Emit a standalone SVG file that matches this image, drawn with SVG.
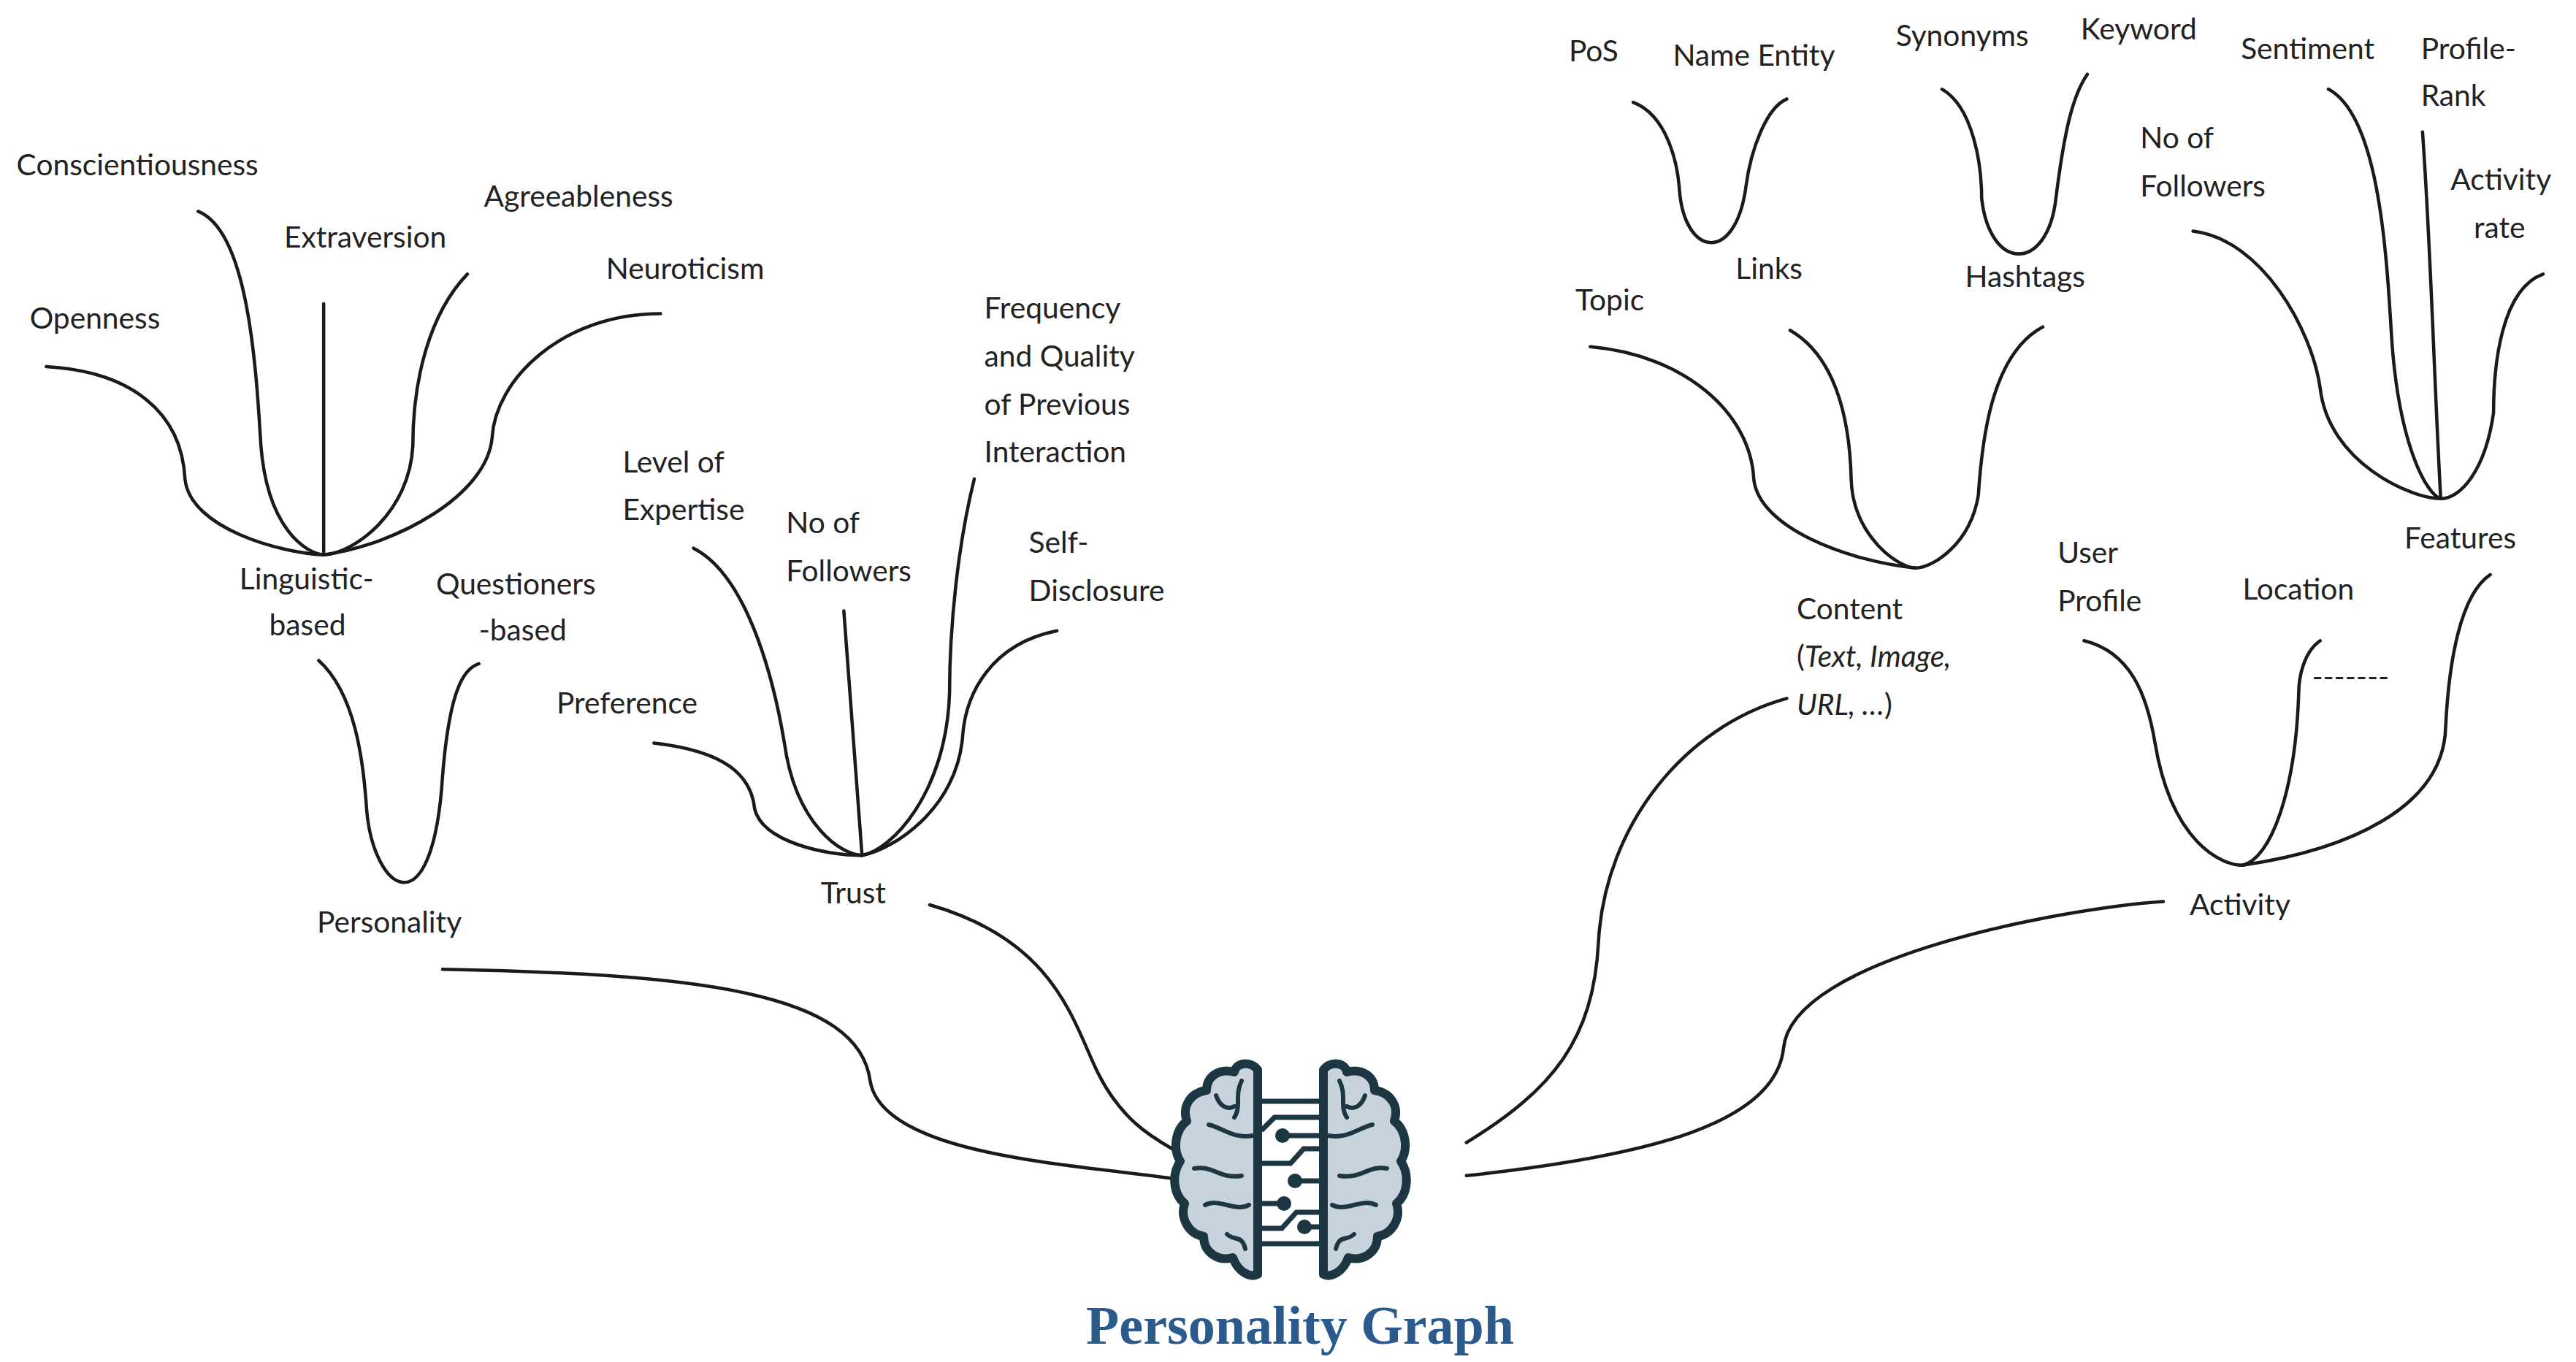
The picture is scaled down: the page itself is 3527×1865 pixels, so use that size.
<svg xmlns="http://www.w3.org/2000/svg" width="3527" height="1865" viewBox="0 0 3527 1865">
<style>
.c{fill:none;stroke:#1a1a1a;stroke-width:2;stroke-linecap:round}
.t{font-family:Lato,"Open Sans",sans-serif;font-size:18px;fill:#222}
.b{fill:#c9d3dc;stroke:#1c3642;stroke-width:12;stroke-linejoin:round}
.f{fill:none;stroke:#1c3642;stroke-width:6;stroke-linecap:round}
.w{fill:none;stroke:#1c3642;stroke-width:7}
</style>
<rect width="3527" height="1865" fill="#fff"/>
<g transform="scale(2.261)">
<g id="connectors">
<path class="c" d="M268,587 C420,590 520,600 527,655 C535,700 650,705 712,714"/>
<path class="c" d="M563,548 C640,570 650,620 665,650 C680,680 700,690 712,697"/>
<path class="c" d="M888,692 C940,660 965,630 968,570 C972,500 1020,440 1082,423"/>
<path class="c" d="M888,712 C1000,700 1075,680 1080,635 C1085,580 1250,550 1310,546"/>
<path class="c" d="M193,400 C215,420 220,460 222,490 C226,540 262,565 268,470 C272,420 280,405 290,402"/>
<path class="c" d="M28,222 C80,225 110,250 112,290 C115,320 170,335 196,336"/>
<path class="c" d="M120,128 C150,140 155,220 158,270 C162,320 185,335 196,336"/>
<path class="c" d="M196,184 L196,336"/>
<path class="c" d="M283,166 C260,190 250,230 250,270 C248,310 215,335 196,336"/>
<path class="c" d="M400,190 C340,190 300,230 298,265 C295,300 240,330 196,336"/>
<path class="c" d="M396,450 C440,455 455,470 457,490 C462,510 500,518 522,518"/>
<path class="c" d="M420,332 C455,350 470,420 475,450 C482,500 510,518 522,518"/>
<path class="c" d="M511,370 C515,420 518,470 522,518"/>
<path class="c" d="M590,290 C580,330 575,380 575,420 C573,480 540,515 522,518"/>
<path class="c" d="M640,382 C600,390 585,420 583,445 C580,490 540,515 522,518"/>
<path class="c" d="M963,210 C1020,215 1060,250 1062,290 C1065,320 1120,340 1160,344"/>
<path class="c" d="M1084,200 C1110,215 1120,250 1121,290 C1122,325 1150,344 1160,344"/>
<path class="c" d="M1237,198 C1205,215 1200,270 1198,300 C1193,330 1170,344 1160,344"/>
<path class="c" d="M989,62 C1010,70 1016,100 1017,115 C1020,155 1050,160 1057,115 C1060,90 1070,65 1082,60"/>
<path class="c" d="M1176,54 C1195,65 1200,100 1200,120 C1205,165 1240,165 1245,120 C1250,80 1255,58 1264,45"/>
<path class="c" d="M1328,140 C1370,145 1400,200 1405,235 C1410,280 1460,302 1478,302"/>
<path class="c" d="M1410,54 C1440,70 1445,150 1448,200 C1452,270 1470,300 1478,302"/>
<path class="c" d="M1467,80 C1472,150 1474,230 1478,302"/>
<path class="c" d="M1540,166 C1515,175 1510,220 1510,250 C1505,285 1490,302 1478,302"/>
<path class="c" d="M1262,388 C1290,395 1300,420 1305,450 C1315,510 1345,524 1358,524"/>
<path class="c" d="M1405,388 C1395,395 1392,410 1392,420 C1390,480 1375,520 1358,524"/>
<path class="c" d="M1508,348 C1490,360 1483,400 1481,440 C1480,490 1420,515 1358,524"/>
</g>
<g id="labels" class="t">
<text x="10" y="106">Conscientiousness</text>
<text x="172" y="150">Extraversion</text>
<text x="293" y="125">Agreeableness</text>
<text x="367" y="169">Neuroticism</text>
<text x="18" y="199">Openness</text>
<text x="145" y="357">Linguistic-</text><text x="163" y="385">based</text>
<text x="264" y="360">Questioners</text><text x="290" y="388">-based</text>
<text x="192" y="565">Personality</text>
<text x="377" y="286">Level of</text><text x="377" y="315">Expertise</text>
<text x="476" y="323">No of</text><text x="476" y="352">Followers</text>
<text x="596" y="193">Frequency</text><text x="596" y="222">and Quality</text><text x="596" y="251">of Previous</text><text x="596" y="280">Interaction</text>
<text x="623" y="335">Self-</text><text x="623" y="364">Disclosure</text>
<text x="337" y="432">Preference</text>
<text x="497" y="547">Trust</text>
<text x="950" y="37">PoS</text>
<text x="1013" y="40">Name Entity</text>
<text x="1148" y="28">Synonyms</text>
<text x="1260" y="24">Keyword</text>
<text x="1357" y="36">Sentiment</text>
<text x="1466" y="36">Profile-</text><text x="1466" y="64">Rank</text>
<text x="1296" y="90">No of</text><text x="1296" y="119">Followers</text>
<text x="1484" y="115">Activity</text><text x="1498" y="144">rate</text>
<text x="1051" y="169">Links</text>
<text x="1190" y="174">Hashtags</text>
<text x="954" y="188">Topic</text>
<text x="1456" y="332">Features</text>
<text x="1246" y="341">User</text><text x="1246" y="370">Profile</text>
<text x="1358" y="363">Location</text>
<text x="1400" y="416">-------</text>
<text x="1088" y="375">Content</text>
<text x="1088" y="404">(<tspan font-style="italic">Text, Image,</tspan></text>
<text x="1088" y="433"><tspan font-style="italic">URL, …</tspan>)</text>
<text x="1326" y="554">Activity</text>
</g>
</g>
<g id="brain">
<g id="circuit">
<path class="w" d="M1727,1508 H1807 M1727,1548 L1745,1530 H1807 M1760,1555 H1807 M1727,1593 H1767 L1785,1573 H1807 M1770,1617 H1807 M1727,1648 H1760 M1727,1682 H1755 L1775,1660 H1807 M1787,1680 H1807 M1727,1703 H1807"/>
<circle cx="1756" cy="1555" r="10" fill="#1c3642"/>
<circle cx="1773" cy="1617" r="10" fill="#1c3642"/>
<circle cx="1758" cy="1648" r="10" fill="#1c3642"/>
<circle cx="1786" cy="1680" r="10" fill="#1c3642"/>
</g>
<g id="left-hemi">
<path class="b" d="M1722,1465 C1712,1452 1692,1455 1690,1468 C1668,1462 1652,1475 1652,1493 C1630,1496 1618,1515 1625,1535 C1608,1548 1606,1575 1616,1590 C1604,1608 1606,1635 1622,1648 C1615,1668 1628,1690 1648,1693 C1648,1715 1668,1728 1688,1722 C1695,1742 1712,1750 1722,1745 Z"/>
<path class="f" d="M1700,1480 C1690,1500 1700,1515 1690,1530 M1655,1540 C1675,1545 1690,1560 1715,1555 M1635,1600 C1660,1595 1670,1615 1700,1610 M1650,1650 C1670,1640 1690,1660 1710,1650 M1680,1690 C1690,1700 1700,1690 1705,1710 M1665,1500 C1670,1515 1680,1520 1690,1515"/>
</g>
<g id="right-hemi" transform="translate(3534,0) scale(-1,1)">
<path class="b" d="M1722,1465 C1712,1452 1692,1455 1690,1468 C1668,1462 1652,1475 1652,1493 C1630,1496 1618,1515 1625,1535 C1608,1548 1606,1575 1616,1590 C1604,1608 1606,1635 1622,1648 C1615,1668 1628,1690 1648,1693 C1648,1715 1668,1728 1688,1722 C1695,1742 1712,1750 1722,1745 Z"/>
<path class="f" d="M1700,1480 C1690,1500 1700,1515 1690,1530 M1655,1540 C1675,1545 1690,1560 1715,1555 M1635,1600 C1660,1595 1670,1615 1700,1610 M1650,1650 C1670,1640 1690,1660 1710,1650 M1680,1690 C1690,1700 1700,1690 1705,1710 M1665,1500 C1670,1515 1680,1520 1690,1515"/>
</g>
</g>
<text id="title" x="1780" y="1840" text-anchor="middle" font-family="'Liberation Serif',serif" font-weight="bold" font-size="74" fill="#2b5a8c">Personality Graph</text>
</svg>
